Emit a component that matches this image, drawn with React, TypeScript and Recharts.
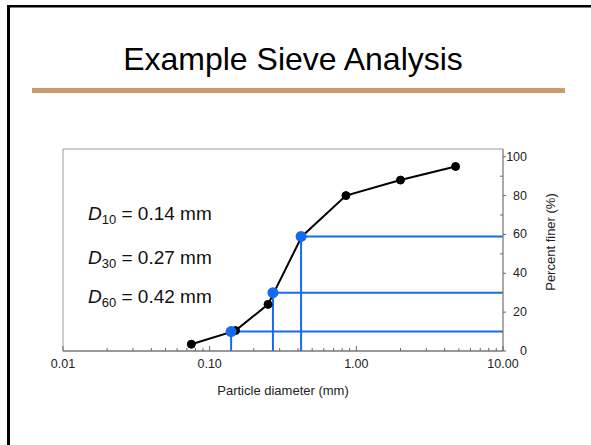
import React from "react";
import {
  ComposedChart,
  Line,
  Scatter,
  XAxis,
  YAxis,
  ReferenceLine,
  ReferenceArea,
} from "recharts";

// sieve openings (mm) and measured percent finer
const sieveSizes = [0.075, 0.15, 0.25, 0.425, 0.85, 2.0, 4.75];
const percentFiner = [3.5, 10.5, 24, 59, 80, 88, 95];

// characteristic diameters
const dNames = ["10", "30", "60"];
const dSizes = [0.14, 0.27, 0.42];
const dPercents = [10, 30, 59];

const xMajorTicks = [0.01, 0.1, 1, 10];
const xTicks = [
  0.01, 0.02, 0.03, 0.04, 0.05, 0.06, 0.07, 0.08, 0.09,
  0.1, 0.2, 0.3, 0.4, 0.5, 0.6, 0.7, 0.8, 0.9,
  1, 2, 3, 4, 5, 6, 7, 8, 9, 10,
];
const yMajorTicks = [0, 20, 40, 60, 80, 100];
const yTicks = [0, 10, 20, 30, 40, 50, 60, 70, 80, 90, 100];

const FONT = '"Liberation Sans", Arial, Helvetica, sans-serif';
const BLUE = "#1769f2";

const curve = sieveSizes.map((d, i) => ({ d, p: percentFiner[i] }));
const dPoints = dSizes.map((d, i) => ({ d, p: dPercents[i] }));

function XTick({ x, y, payload }: any) {
  const major = xMajorTicks.includes(payload.value);
  return (
    <g>
      <line x1={x} x2={x} y1={y} y2={y - (major ? 5 : 3)} stroke="#666" strokeWidth={1} />
      {major ? (
        <text x={x} y={y + 17} textAnchor="middle" fontSize={12.5} fontFamily={FONT} fill="#222">
          {payload.value.toFixed(2)}
        </text>
      ) : null}
    </g>
  );
}

function YTick({ x, y, payload }: any) {
  const major = yMajorTicks.includes(payload.value);
  return (
    <g>
      {major ? (
        <>
          <line x1={x} x2={x + 3} y1={y} y2={y} stroke="#666" strokeWidth={1} />
          <text x={x + 24} y={y + 4} textAnchor="end" fontSize={12.5} fontFamily={FONT} fill="#222">
            {payload.value}
          </text>
        </>
      ) : (
        <line x1={x} x2={x - 3} y1={y} y2={y} stroke="#666" strokeWidth={1} />
      )}
    </g>
  );
}

const dBaselines = [220, 264, 303];

export default function App() {
  return (
    <div style={{ position: "absolute", left: 0, top: 0, width: 591, height: 445, background: "#fff" }}>
      <svg width={591} height={445} style={{ position: "absolute", left: 0, top: 0 }}>
        <rect x={7} y={5} width={591} height={2.5} fill="#000" />
        <rect x={7} y={5} width={3} height={445} fill="#000" />
        <text x={293} y={70} textAnchor="middle" fontSize={32} fontFamily={FONT} fill="#000">
          Example Sieve Analysis
        </text>
        <rect x={32} y={88} width={533} height={5} fill="#c99a70" />
        <text x={283} y={395} textAnchor="middle" fontSize={13} fontFamily={FONT} fill="#222">
          Particle diameter (mm)
        </text>
        <text
          x={550}
          y={242}
          textAnchor="middle"
          fontSize={13}
          fontFamily={FONT}
          fill="#222"
          transform="rotate(-90 550 242)"
          dominantBaseline="central"
        >
          Percent finer (%)
        </text>
        {dNames.map((n, i) => (
          <text key={n} x={88} y={dBaselines[i]} fontSize={19} fontFamily={FONT} fill="#111">
            <tspan fontStyle="italic">D</tspan>
            <tspan fontSize={13} dy={4}>{n}</tspan>
            <tspan dy={-4}>{` = ${dSizes[i].toFixed(2)} mm`}</tspan>
          </text>
        ))}
      </svg>
      <div style={{ position: "absolute", left: 0, top: 0 }}>
        <ComposedChart
          width={591}
          height={445}
          margin={{ top: 149, right: 43, bottom: 64, left: 63 }}
        >
          <XAxis
            dataKey="d"
            type="number"
            scale="log"
            domain={[0.01, 10]}
            ticks={xTicks}
            interval={0}
            allowDataOverflow
            height={30}
            tickSize={0}
            tickMargin={0}
            tickLine={false}
            axisLine={{ stroke: "#666" }}
            tick={<XTick />}
          />
          <YAxis
            dataKey="p"
            type="number"
            orientation="right"
            domain={[0, 104]}
            ticks={yTicks}
            interval={0}
            width={45}
            tickSize={0}
            tickMargin={0}
            tickLine={false}
            axisLine={{ stroke: "#888" }}
            tick={<YTick />}
          />
          <ReferenceArea x1={0.01} x2={10} y1={0} y2={104} fill="none" stroke="#999" strokeWidth={1} />
          {dPoints.map((pt) => (
            <ReferenceLine
              key={`h${pt.d}`}
              segment={[{ x: pt.d, y: pt.p }, { x: 10, y: pt.p }]}
              stroke={BLUE}
              strokeWidth={2}
            />
          ))}
          {dPoints.map((pt) => (
            <ReferenceLine
              key={`v${pt.d}`}
              segment={[{ x: pt.d, y: 0 }, { x: pt.d, y: pt.p }]}
              stroke={BLUE}
              strokeWidth={2}
            />
          ))}
          <Line
            data={curve}
            dataKey="p"
            type="linear"
            stroke="#000"
            strokeWidth={2}
            dot={{ r: 4, fill: "#000", stroke: "#000", strokeWidth: 1 }}
            isAnimationActive={false}
          />
          <Scatter
            data={dPoints}
            dataKey="p"
            fill={BLUE}
            shape={(props: any) => <circle cx={props.cx} cy={props.cy} r={5.5} fill={BLUE} />}
            isAnimationActive={false}
          />
        </ComposedChart>
      </div>
    </div>
  );
}
